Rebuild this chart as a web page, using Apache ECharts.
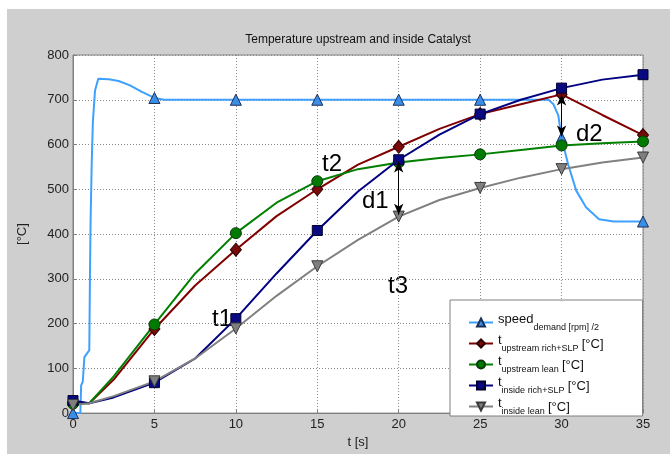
<!DOCTYPE html>
<html>
<head>
<meta charset="utf-8">
<script src="https://cdn.jsdelivr.net/npm/echarts@6/dist/echarts.min.js"></script>
<style>
  html, body { margin: 0; padding: 0; background: #fff; }
  #main { position: absolute; left: 7px; top: 9px; width: 663px; height: 445px; background: #cfcfcf; }
</style>
</head>
<body>
<div id="main"></div>
<script>
// 时间轴 (s)
var tempTime = [0, 1, 2.5, 5, 7.5, 10, 12.5, 15, 17.5, 20, 22.5, 25, 27.5, 30, 32.5, 35];
// 温度曲线 (°C)
var upRich = [24, 22, 75, 188, 285, 365, 440, 500, 555, 595, 635, 668, 690, 712, 666, 621];
var upLean = [21, 22, 82, 198, 312, 402, 470, 518, 545, 560, 570, 578, 588, 598, 603, 607];
var inRich = [28, 22, 35, 68, 122, 211, 312, 408, 495, 566, 622, 668, 700, 726, 745, 756];
var inLean = [18, 22, 38, 71, 122, 189, 262, 328, 387, 439, 476, 503, 526, 545, 560, 571];
// 转速 /2
var speedTime = [0, 0.45, 0.5, 0.6, 0.7, 0.85, 1.0, 1.04, 1.08, 1.15, 1.22, 1.35, 1.55, 2.2, 2.8, 3.5, 4.2, 5, 5.6,
                 10, 15, 20, 25, 29.2, 29.5, 29.8, 30, 30.4, 30.9, 31.5, 32.3, 33.2, 35];
var speedVal = [0, 0, 62, 70, 125, 133, 140, 300, 430, 560, 650, 720, 747, 746, 742, 732, 718, 704, 700,
                700, 700, 700, 700, 700, 690, 665, 615, 556, 497, 460, 433, 428, 428];
// 坐标轴刻度
var xTicks = [0, 35, 5];
var yTicks = [0, 800, 100];
// 箭头 d1 / d2 : [t, 上, 下]
var arrowD1 = [20, 562, 443];
var arrowD2 = [30, 712, 618];

var legendText = {
    'speed': '{m|speed}{s|demand [rpm] /2}',
    't upstream rich+SLP': '{m|t}{s|upstream rich+SLP} {c|[°C]}',
    't upstream lean': '{m|t}{s|upstream lean} {c|[°C]}',
    't inside rich+SLP': '{m|t}{s|inside rich+SLP} {c|[°C]}',
    't inside lean': '{m|t}{s|inside lean} {c|[°C]}'
};

//只在5秒的位置画标记
function toData(ts, vs) {
    var out = [];
    for (var i = 0; i < ts.length; i++) {
        var item = { value: [ts[i], vs[i]] };
        if (ts[i] % 5 !== 0) item.symbol = 'none';
        out.push(item);
    }
    return out;
}

function mkSeries(name, ts, vs, color, sym, fill, border, size, rot) {
    return {
        name: name,
        type: 'line',
        data: toData(ts, vs),
        symbol: sym,
        symbolSize: size,
        symbolRotate: rot || 0,
        showAllSymbol: true,
        smooth: false,
        lineStyle: { color: color, width: 2 },
        itemStyle: { color: fill, borderColor: border, borderWidth: 1 },
        emphasis: { disabled: true },
        animation: false
    };
}

var font = 'Liberation Sans, Arial, sans-serif';
var myChart = echarts.init(document.getElementById('main'));

var series = [
    mkSeries('speed', speedTime, speedVal, '#3fa0ff', 'triangle', '#3a8ee8', '#1c2f55', 11),
    mkSeries('t upstream rich+SLP', tempTime, upRich, '#800000', 'diamond', '#7a0a0a', '#2a0000', [11, 13]),
    mkSeries('t upstream lean', tempTime, upLean, '#007f00', 'circle', '#007a00', '#0a3a0a', 11),
    mkSeries('t inside rich+SLP', tempTime, inRich, '#000080', 'rect', '#0a0a80', '#000030', 10),
    mkSeries('t inside lean', tempTime, inLean, '#808080', 'triangle', '#7f7f7f', '#3a3a3a', 11, 180)
];
series[4].markLine = {
    silent: true,
    symbol: ['arrow', 'arrow'],
    symbolSize: [7, 11],
    lineStyle: { color: '#000', width: 1, type: 'solid' },
    label: { show: false },
    data: [
        [{ coord: [arrowD1[0], arrowD1[1]] }, { coord: [arrowD1[0], arrowD1[2]] }],
        [{ coord: [arrowD2[0], arrowD2[1]] }, { coord: [arrowD2[0], arrowD2[2]] }]
    ]
};

var option = {
    animation: false,
    textStyle: { fontFamily: font },
    title: {
        text: 'Temperature upstream and inside Catalyst',
        left: 351,
        top: 25,
        textAlign: 'center',
        padding: 0,
        textStyle: { fontSize: 12, fontWeight: 'normal', color: '#111', fontFamily: font }
    },
    grid: {
        left: 66, right: 27, top: 46, bottom: 37,
        show: true, backgroundColor: '#fff', borderColor: '#808080', borderWidth: 1
    },
    legend: {
        orient: 'vertical',
        left: 443,
        top: 291,
        itemWidth: 24,
        itemHeight: 10,
        itemGap: 2,
        padding: [13, 39, 0, 18],
        backgroundColor: '#fff',
        borderColor: '#808080',
        borderWidth: 1,
        data: series.map(function (s) { return s.name; }),
        formatter: function (name) { return legendText[name]; },
        textStyle: {
            fontFamily: font,
            color: '#111',
            rich: {
                m: { fontSize: 13, verticalAlign: 'top', lineHeight: 14, fontFamily: font, color: '#111' },
                s: { fontSize: 9, padding: [10, 0, 0, 0], fontFamily: font, color: '#111' },
                c: { fontSize: 13, padding: [2, 0, 0, 0], fontFamily: font, color: '#111' }
            }
        }
    },
    xAxis: {
        type: 'value',
        min: xTicks[0], max: xTicks[1], interval: xTicks[2],
        name: 't [s]',
        nameLocation: 'middle',
        nameGap: 15,
        nameTextStyle: { fontSize: 13, color: '#222', fontFamily: font },
        axisLine: { lineStyle: { color: '#808080' } },
        axisTick: { inside: true, length: 4, lineStyle: { color: '#808080' } },
        axisLabel: { fontSize: 13, color: '#222', margin: 5, fontFamily: font },
        splitLine: { lineStyle: { color: '#8a8a8a', type: [1, 2] } }
    },
    yAxis: {
        type: 'value',
        min: yTicks[0], max: yTicks[1], interval: yTicks[2],
        name: '[°C]',
        nameLocation: 'middle',
        nameRotate: 90,
        nameGap: 44,
        nameTextStyle: { fontSize: 13, color: '#222', fontFamily: font },
        axisLine: { show: true, lineStyle: { color: '#808080' } },
        axisTick: { show: true, inside: true, length: 4, lineStyle: { color: '#808080' } },
        axisLabel: { fontSize: 13, color: '#222', margin: 4, fontFamily: font },
        splitLine: { lineStyle: { color: '#8a8a8a', type: [1, 2] } }
    },
    graphic: [
        { type: 'text', left: 205, top: 298, style: { text: 't1', fontSize: 24, fontFamily: font, fill: '#000' } },
        { type: 'text', left: 315, top: 143, style: { text: 't2', fontSize: 24, fontFamily: font, fill: '#000' } },
        { type: 'text', left: 355, top: 180, style: { text: 'd1', fontSize: 24, fontFamily: font, fill: '#000' } },
        { type: 'text', left: 381, top: 265, style: { text: 't3', fontSize: 24, fontFamily: font, fill: '#000' } },
        { type: 'text', left: 569, top: 113, style: { text: 'd2', fontSize: 24, fontFamily: font, fill: '#000' } }
    ],
    series: series
};

myChart.setOption(option);
</script>
</body>
</html>
